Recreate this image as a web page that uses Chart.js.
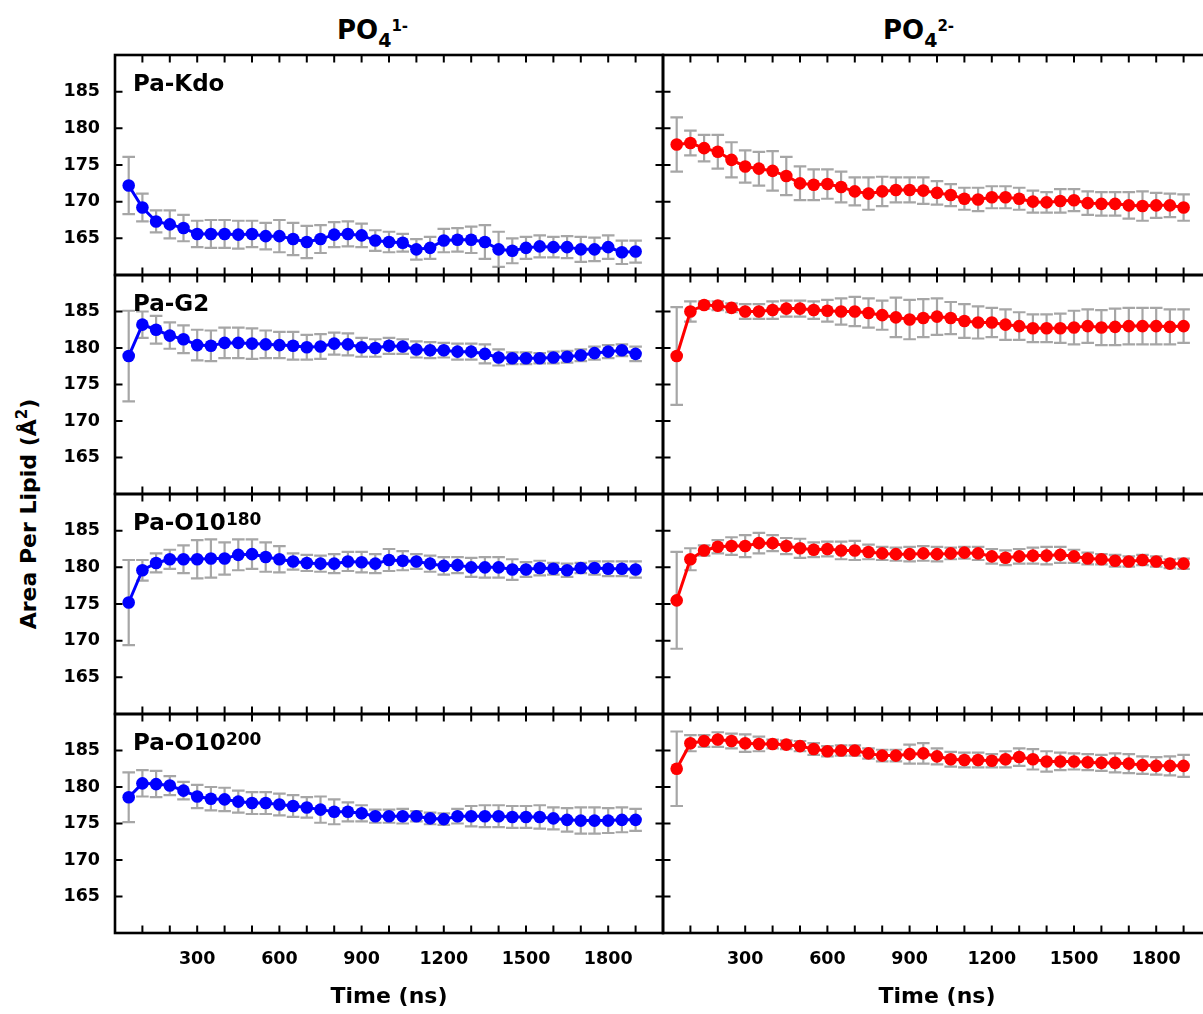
<!DOCTYPE html>
<html>
<head>
<meta charset="utf-8">
<title>Area per lipid vs time</title>
<script src="https://cdn.jsdelivr.net/npm/chart.js@4.4.1/dist/chart.umd.min.js"></script>
<style>
  html, body { margin: 0; padding: 0; background: #fff; overflow: hidden; }
  #fig { position: relative; width: 1203px; height: 1014px; overflow: hidden;
         font-family: "DejaVu Sans", sans-serif; font-weight: bold; color: #000; }
  .cell { position: absolute; }
  .coltitle { position: absolute; top: 17px; font-size: 26px; line-height: 26px; white-space: nowrap; }
  .coltitle .sub { font-size: 19px; position: relative; top: 8px; line-height: 0; }
  .coltitle .sup { font-size: 15px; position: relative; top: -8px; line-height: 0; }
  .plabel { position: absolute; left: 133px; font-size: 23px; line-height: 23px; white-space: nowrap; }
  .plabel .sup { font-size: 17px; position: relative; top: -4.5px; line-height: 0; }
  .ytitle { position: absolute; left: 29px; top: 514px; font-size: 22px; line-height: 22px;
            white-space: nowrap; transform: translate(-50%, -50%) rotate(-90deg); }
  .ytitle .sup { font-size: 15px; position: relative; top: -9px; line-height: 0; }
</style>
</head>
<body>
<div id="fig">
  <div class="coltitle" style="left:337px">PO<span class="sub">4</span><span class="sup">1-</span></div>
  <div class="coltitle" style="left:883px">PO<span class="sub">4</span><span class="sup">2-</span></div>
  <div class="ytitle">Area Per Lipid (Å<span class="sup">2</span>)</div>
</div>
<script>
// Simulation time of each sample (ns)
const timeNs = [50, 100, 150, 200, 250, 300, 350, 400, 450, 500,
                550, 600, 650, 700, 750, 800, 850, 900, 950, 1000,
                1050, 1100, 1150, 1200, 1250, 1300, 1350, 1400, 1450, 1500,
                1550, 1600, 1650, 1700, 1750, 1800, 1850, 1900];

const xTickLabels = [300, 600, 900, 1200, 1500, 1800];
const yTickLabels = [165, 170, 175, 180, 185];

const rowNames = ['Pa-Kdo', 'Pa-G2', 'Pa-O10', 'Pa-O10'];
const rowSups  = ['', '', '180', '200'];
const xTitle = 'Time (ns)';

// Pa-Kdo
const kdoMono = [172.2, 169.2, 167.3, 166.9, 166.4, 165.6, 165.6, 165.6, 165.5, 165.6,
                 165.3, 165.3, 164.9, 164.5, 164.9, 165.5, 165.6, 165.4, 164.7, 164.5,
                 164.4, 163.5, 163.7, 164.7, 164.8, 164.8, 164.5, 163.5, 163.3, 163.7,
                 163.9, 163.8, 163.8, 163.5, 163.5, 163.8, 163.1, 163.2];
const kdoMonoErr = [3.9, 1.9, 1.5, 1.9, 1.8, 1.8, 1.9, 1.9, 1.9, 1.8,
                    1.8, 2.2, 2.2, 2.2, 1.9, 1.7, 1.7, 1.6, 1.4, 1.4,
                    1.2, 1.4, 1.5, 1.6, 1.6, 1.8, 2.3, 2.4, 1.7, 1.5,
                    1.5, 1.4, 1.5, 1.7, 1.6, 1.6, 1.6, 1.5];
const kdoDi = [177.8, 178.0, 177.3, 176.8, 175.7, 174.8, 174.5, 174.2, 173.5, 172.5,
               172.3, 172.4, 172.0, 171.4, 171.1, 171.4, 171.6, 171.6, 171.5, 171.2,
               170.9, 170.4, 170.3, 170.6, 170.6, 170.4, 170.0, 169.9, 170.1, 170.2,
               169.8, 169.7, 169.7, 169.5, 169.4, 169.5, 169.5, 169.2];
const kdoDiErr = [3.7, 1.7, 1.8, 2.3, 2.4, 2.2, 2.3, 2.7, 2.6, 2.3,
                  2.1, 2.0, 2.1, 1.9, 2.2, 2.0, 1.7, 1.7, 1.8, 1.6,
                  1.5, 1.5, 1.6, 1.5, 1.5, 1.5, 1.5, 1.4, 1.6, 1.5,
                  1.6, 1.6, 1.6, 1.8, 2.0, 1.7, 1.6, 1.8];

// Pa-G2
const g2Mono = [178.9, 183.2, 182.5, 181.7, 181.2, 180.4, 180.3, 180.7, 180.7, 180.6,
                180.5, 180.4, 180.3, 180.1, 180.2, 180.6, 180.5, 180.1, 180.0, 180.3,
                180.2, 179.8, 179.7, 179.7, 179.5, 179.5, 179.2, 178.7, 178.6, 178.6,
                178.6, 178.7, 178.8, 179.0, 179.3, 179.5, 179.7, 179.2];
const g2MonoErr = [6.2, 1.8, 1.9, 1.8, 1.9, 2.1, 2.1, 2.1, 2.1, 2.1,
                   1.9, 1.8, 1.9, 1.7, 1.7, 1.5, 1.5, 1.3, 1.2, 1.1,
                   1.0, 1.1, 1.1, 1.0, 1.1, 1.1, 1.3, 1.1, 0.8, 0.8,
                   0.7, 0.8, 0.8, 0.8, 0.9, 0.9, 0.8, 1.0];
const g2Di = [178.9, 185.0, 185.9, 185.8, 185.5, 185.0, 185.0, 185.2, 185.4, 185.4,
              185.2, 185.1, 185.0, 185.0, 184.8, 184.5, 184.2, 183.9, 184.1, 184.3,
              184.1, 183.7, 183.5, 183.5, 183.2, 183.0, 182.7, 182.7, 182.7, 182.8,
              183.0, 182.8, 182.9, 183.0, 183.0, 183.0, 182.9, 183.0];
const g2DiErr = [6.7, 1.4, 0.5, 0.6, 0.6, 1.0, 1.0, 1.2, 1.1, 1.1,
                 1.2, 1.5, 1.8, 2.0, 2.0, 2.0, 2.7, 2.7, 2.6, 2.5,
                 2.2, 2.3, 2.2, 2.0, 2.1, 1.9, 1.9, 1.9, 2.0, 2.3,
                 2.3, 2.4, 2.5, 2.5, 2.5, 2.5, 2.4, 2.3];

// Pa-O10 (180)
const o180Mono = [175.2, 179.6, 180.6, 181.1, 181.1, 181.1, 181.2, 181.2, 181.7, 181.8,
                  181.4, 181.1, 180.8, 180.6, 180.5, 180.5, 180.8, 180.7, 180.5, 181.0,
                  180.9, 180.8, 180.5, 180.2, 180.3, 180.0, 180.0, 180.0, 179.7, 179.7,
                  179.9, 179.8, 179.6, 179.9, 179.9, 179.8, 179.8, 179.7];
const o180MonoErr = [5.8, 1.4, 1.3, 1.3, 1.9, 2.6, 2.6, 2.2, 2.1, 2.0,
                     2.0, 1.8, 1.1, 1.1, 1.1, 1.3, 1.3, 1.4, 1.3, 1.5,
                     1.3, 1.0, 1.1, 1.2, 1.1, 1.3, 1.4, 1.4, 1.4, 1.0,
                     1.0, 0.8, 0.9, 0.7, 0.9, 1.0, 1.0, 1.1];
const o180Di = [175.5, 181.1, 182.3, 182.8, 182.9, 182.9, 183.3, 183.3, 182.9, 182.6,
                182.4, 182.5, 182.3, 182.3, 182.1, 181.9, 181.8, 181.8, 181.9, 181.8,
                181.9, 182.0, 181.9, 181.5, 181.3, 181.5, 181.6, 181.6, 181.7, 181.5,
                181.2, 181.1, 180.9, 180.8, 181.0, 180.8, 180.5, 180.5];
const o180DiErr = [6.6, 1.5, 0.7, 0.9, 1.2, 1.5, 1.4, 1.1, 1.1, 1.3,
                   1.0, 1.0, 1.2, 1.3, 1.0, 0.9, 0.9, 1.0, 1.0, 1.0,
                   0.8, 0.8, 0.9, 1.0, 1.0, 1.0, 1.1, 1.2, 1.1, 0.9,
                   0.8, 0.7, 0.8, 0.7, 0.7, 0.7, 0.6, 0.7];

// Pa-O10 (200)
const o200Mono = [178.6, 180.5, 180.4, 180.2, 179.5, 178.7, 178.4, 178.3, 178.0, 177.8,
                  177.8, 177.6, 177.4, 177.2, 176.9, 176.6, 176.6, 176.4, 176.0, 176.0,
                  176.0, 176.0, 175.7, 175.6, 176.0, 176.0, 176.0, 176.0, 175.9, 175.9,
                  175.9, 175.7, 175.5, 175.4, 175.4, 175.4, 175.5, 175.5];
const o200MonoErr = [3.4, 1.8, 1.8, 1.3, 1.2, 1.6, 1.6, 1.6, 1.5, 1.5,
                     1.5, 1.5, 1.5, 1.4, 1.8, 1.7, 1.3, 1.1, 0.9, 0.9,
                     1.0, 0.7, 0.8, 0.8, 1.0, 1.4, 1.5, 1.5, 1.5, 1.5,
                     1.6, 1.5, 1.6, 1.8, 1.8, 1.7, 1.7, 1.5];
const o200Di = [182.5, 186.0, 186.3, 186.5, 186.3, 186.0, 185.9, 185.9, 185.8, 185.6,
                185.2, 184.9, 185.0, 185.0, 184.6, 184.3, 184.3, 184.5, 184.6, 184.2,
                183.8, 183.7, 183.7, 183.6, 183.8, 184.1, 183.8, 183.5, 183.5, 183.5,
                183.4, 183.3, 183.3, 183.2, 183.0, 182.9, 182.9, 182.9];
const o200DiErr = [5.1, 1.1, 0.8, 1.0, 1.0, 1.2, 1.0, 0.6, 0.6, 0.7,
                   0.8, 0.7, 0.7, 0.7, 0.7, 0.8, 0.8, 1.3, 1.4, 1.1,
                   1.0, 1.0, 1.0, 0.9, 1.1, 1.2, 1.4, 1.4, 1.2, 1.1,
                   1.1, 1.1, 1.3, 1.3, 1.2, 1.2, 1.3, 1.5];

// One entry per panel: [row][column] -> mean and standard deviation
const panelValues = [
  [[kdoMono, kdoMonoErr], [kdoDi, kdoDiErr]],
  [[g2Mono, g2MonoErr], [g2Di, g2DiErr]],
  [[o180Mono, o180MonoErr], [o180Di, o180DiErr]],
  [[o200Mono, o200MonoErr], [o200Di, o200DiErr]]
];
const seriesColors = ['#0000ff', '#ff0000'];

// ---- panel geometry (plot area edges, px) ----
const ROW_TOP = [55, 275, 494, 714];
const ROW_BOTTOM = [275, 494, 714, 933];
const COL_LEFT = [115, 663];
const COL_RIGHT = [663, 1211];
const PAD = 10;
const FIG_H = 1014;

const tickFont = { family: 'DejaVu Sans', size: 17.5, weight: 'bold' };

// Grey error bars with caps, drawn beneath the line and markers
const errorBarPlugin = {
  id: 'errorBars',
  beforeDatasetsDraw(chart) {
    const { ctx, scales: { x, y } } = chart;
    const ds = chart.data.datasets[0];
    const errs = ds.errors;
    ctx.save();
    ctx.strokeStyle = '#a6a6a6';
    ctx.lineWidth = 2.2;
    ctx.beginPath();
    ds.data.forEach((p, i) => {
      const px = x.getPixelForValue(p.x);
      const top = y.getPixelForValue(p.y + errs[i]);
      const bot = y.getPixelForValue(p.y - errs[i]);
      ctx.moveTo(px, top); ctx.lineTo(px, bot);
      ctx.moveTo(px - 6.3, top); ctx.lineTo(px + 6.3, top);
      ctx.moveTo(px - 6.3, bot); ctx.lineTo(px + 6.3, bot);
    });
    ctx.stroke();
    ctx.restore();
  }
};

// Closed black frame with inward tick marks on all four sides
const framePlugin = {
  id: 'frame',
  afterDraw(chart) {
    const { ctx, chartArea: a, scales: { x, y } } = chart;
    const len = 7.5;
    ctx.save();
    ctx.strokeStyle = '#000';
    ctx.lineWidth = 2;
    ctx.beginPath();
    x.ticks.forEach(t => {
      if (t.value <= x.min || t.value >= x.max) return;
      const px = x.getPixelForValue(t.value);
      ctx.moveTo(px, a.top); ctx.lineTo(px, a.top + len);
      ctx.moveTo(px, a.bottom); ctx.lineTo(px, a.bottom - len);
    });
    y.ticks.forEach(t => {
      if (t.value <= y.min || t.value >= y.max) return;
      const py = y.getPixelForValue(t.value);
      ctx.moveTo(a.left, py); ctx.lineTo(a.left + len, py);
      ctx.moveTo(a.right, py); ctx.lineTo(a.right - len, py);
    });
    ctx.stroke();
    ctx.lineWidth = 2.6;
    ctx.strokeRect(a.left, a.top, a.right - a.left, a.bottom - a.top);
    ctx.restore();
  }
};

// Fix an axis box to an exact size and drop the end-label overhang padding
function pinAxis(size, horizontal) {
  return s => {
    if (horizontal) s.height = size; else s.width = size;
    s.paddingTop = 0; s.paddingBottom = 0;
    s.paddingLeft = 0; s.paddingRight = 0;
  };
}

const fig = document.getElementById('fig');

for (let r = 0; r < 4; r++) {
  for (let c = 0; c < 2; c++) {
    const [values, errors] = panelValues[r][c];
    const isLeft = c === 0;
    const isBottom = r === 3;

    const boxLeft = isLeft ? 0 : COL_LEFT[c] - PAD;
    const boxTop = ROW_TOP[r] - PAD;
    const boxRight = COL_RIGHT[c] + PAD;
    const boxBottom = isBottom ? FIG_H : ROW_BOTTOM[r] + PAD;
    const yAxisWidth = COL_LEFT[c] - boxLeft;
    const xAxisHeight = boxBottom - ROW_BOTTOM[r];

    const cell = document.createElement('div');
    cell.className = 'cell';
    cell.style.left = boxLeft + 'px';
    cell.style.top = boxTop + 'px';
    cell.style.width = (boxRight - boxLeft) + 'px';
    cell.style.height = (boxBottom - boxTop) + 'px';
    const canvas = document.createElement('canvas');
    cell.appendChild(canvas);
    fig.appendChild(cell);

    new Chart(canvas, {
      type: 'line',
      data: {
        datasets: [{
          data: timeNs.map((t, i) => ({ x: t, y: values[i] })),
          errors: errors,
          borderColor: seriesColors[c],
          backgroundColor: seriesColors[c],
          borderWidth: 3,
          pointRadius: 6.3,
          pointBorderWidth: 0,
          pointBackgroundColor: seriesColors[c],
          tension: 0,
          fill: false
        }]
      },
      options: {
        responsive: true,
        maintainAspectRatio: false,
        animation: false,
        events: [],
        layout: { padding: { top: PAD, right: PAD, left: 0, bottom: 0 } },
        plugins: { legend: { display: false }, tooltip: { enabled: false } },
        scales: {
          x: {
            type: 'linear',
            min: 0,
            max: 2000,
            grid: { display: false, drawTicks: false },
            border: { display: false },
            ticks: {
              display: isBottom,
              stepSize: 100,
              autoSkip: false,
              maxRotation: 0,
              padding: 16,
              color: '#000',
              font: tickFont,
              callback: v => xTickLabels.includes(v) ? String(v) : ''
            },
            title: {
              display: isBottom,
              text: xTitle,
              color: '#000',
              font: { family: 'DejaVu Sans', size: 22, weight: 'bold' },
              padding: { top: 0, bottom: 4 }
            },
            afterFit: pinAxis(xAxisHeight, true)
          },
          y: {
            min: 160,
            max: 190,
            grid: { display: false, drawTicks: false },
            border: { display: false },
            ticks: {
              display: isLeft,
              stepSize: 5,
              autoSkip: false,
              padding: 15,
              color: '#000',
              font: tickFont,
              callback: v => yTickLabels.includes(v) ? String(v) : ''
            },
            afterFit: pinAxis(yAxisWidth, false)
          }
        }
      },
      plugins: [errorBarPlugin, framePlugin]
    });

    if (isLeft) {
      const lbl = document.createElement('div');
      lbl.className = 'plabel';
      lbl.style.top = (ROW_TOP[r] + 16.5) + 'px';
      lbl.textContent = rowNames[r];
      if (rowSups[r]) {
        const s = document.createElement('span');
        s.className = 'sup';
        s.textContent = rowSups[r];
        lbl.appendChild(s);
      }
      fig.appendChild(lbl);
    }
  }
}
</script>
</body>
</html>
